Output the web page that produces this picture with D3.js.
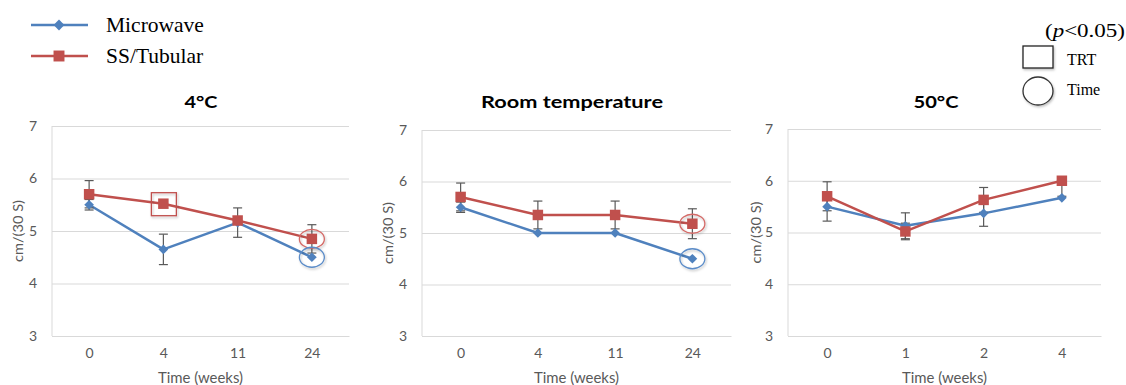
<!DOCTYPE html>
<html>
<head>
<meta charset="utf-8">
<script src="https://cdn.jsdelivr.net/npm/d3@7"></script>
<style>
  html, body { margin: 0; padding: 0; background: #fff; }
  svg { display: block; }
</style>
</head>
<body>
<svg id="chart" width="1126" height="385"></svg>
<script>
// ---- Data -------------------------------------------------------------
const seriesNames = ["Microwave", "SS/Tubular"];
const panelTitles = ["4°C", "Room temperature", "50°C"];

// Storage time points (weeks) per condition
const weeks4C = ["0", "4", "11", "24"];
const weeksRT = ["0", "4", "11", "24"];
const weeks50C = ["0", "1", "2", "4"];

// Mean values, cm/(30 s)
const microwave4C = [5.5, 4.65, 5.16, 4.5];
const ssTubular4C = [5.7, 5.52, 5.2, 4.85];
const microwaveRT = [5.5, 5.0, 5.0, 4.5];
const ssTubularRT = [5.7, 5.35, 5.35, 5.18];
const microwave50C = [5.5, 5.13, 5.37, 5.67];
const ssTubular50C = [5.7, 5.02, 5.63, 6.0];

// Error bar extents (upper / lower)
const microwave4CErrUp = [0.1, 0.29, 0.28, 0];
const microwave4CErrDown = [0.1, 0.29, 0.28, 0];
const ssTubular4CErrUp = [0.26, 0, 0, 0.27];
const ssTubular4CErrDown = [0.26, 0, 0, 0.27];
const microwaveRTErrUp = [0.1, 0, 0, 0];
const microwaveRTErrDown = [0.1, 0, 0, 0];
const ssTubularRTErrUp = [0.27, 0.27, 0.27, 0.29];
const ssTubularRTErrDown = [0.27, 0.27, 0.27, 0.29];
const microwave50CErrUp = [0.28, 0.25, 0.25, 0];
const microwave50CErrDown = [0.28, 0.25, 0.25, 0];
const ssTubular50CErrUp = [0.28, 0.16, 0.24, 0];
const ssTubular50CErrDown = [0.28, 0.16, 0.24, 0.3];

// Y axis ticks
const yTicks = [3, 4, 5, 6, 7];

// Significant differences (p<0.05): panel index, series index, point index, kind
const sigPanel = [0, 0, 0, 1, 1];
const sigSeries = [1, 1, 0, 1, 0];
const sigPoint = [1, 3, 3, 3, 3];
const sigKind = ["TRT", "Time", "Time", "Time", "Time"];

// ---- Layout / style ---------------------------------------------------
const colors = ["#4F81BD", "#C0504D"];
const gridColor = "#D9D9D9";
const textGray = "#595959";
const errColor = "#595959";

const panels = [
  { title: panelTitles[0], cats: weeks4C, vals: [microwave4C, ssTubular4C],
    up: [microwave4CErrUp, ssTubular4CErrUp], down: [microwave4CErrDown, ssTubular4CErrDown],
    left: 52, right: 349, top: 126, bottom: 336, titleX: 201, titleW: 33, yLabelX: 18 },
  { title: panelTitles[1], cats: weeksRT, vals: [microwaveRT, ssTubularRT],
    up: [microwaveRTErrUp, ssTubularRTErrUp], down: [microwaveRTErrDown, ssTubularRTErrDown],
    left: 422, right: 731, top: 130, bottom: 336, titleX: 572, titleW: 182, yLabelX: 388 },
  { title: panelTitles[2], cats: weeks50C, vals: [microwave50C, ssTubular50C],
    up: [microwave50CErrUp, ssTubular50CErrUp], down: [microwave50CErrDown, ssTubular50CErrDown],
    left: 788, right: 1101, top: 129, bottom: 336, titleX: 936, titleW: 45, yLabelX: 756 }
];

const svg = d3.select("#chart");
const sansFont = "Lato, 'Liberation Sans', Arial, sans-serif";
const serifFont = "'Liberation Serif', 'Times New Roman', serif";

// soft shadow used by the significance outlines
const defs = svg.append("defs");
const shadow = defs.append("filter").attr("id", "softShadow")
  .attr("x", "-50%").attr("y", "-50%").attr("width", "200%").attr("height", "200%");
shadow.append("feDropShadow").attr("dx", 1).attr("dy", 1.5)
  .attr("stdDeviation", 1.2).attr("flood-color", "#000").attr("flood-opacity", 0.25);

const diamond = d3.symbol().type(d3.symbolDiamond2).size(60);
const square = d3.symbol().type(d3.symbolSquare).size(110);

panels.forEach((p, pi) => {
  const g = svg.append("g");
  const x = d3.scalePoint().domain(p.cats).range([p.left, p.right]).padding(0.5);
  const y = d3.scaleLinear().domain([3, 7]).range([p.bottom, p.top]);

  // horizontal gridlines
  const yAxis = g.append("g")
    .attr("transform", `translate(${p.left},0)`)
    .call(d3.axisLeft(y).tickValues(yTicks).tickSize(-(p.right - p.left)).tickPadding(15).tickFormat(d3.format("d")));
  yAxis.select(".domain").remove();
  yAxis.selectAll(".tick line").attr("stroke", gridColor).attr("stroke-width", 1);
  yAxis.selectAll(".tick text").attr("fill", textGray)
    .style("font-family", sansFont).style("font-size", "14px");

  // left axis line
  g.append("line").attr("x1", p.left).attr("x2", p.left)
    .attr("y1", y(7)).attr("y2", y(3)).attr("stroke", gridColor);

  // x axis labels
  const xAxis = g.append("g")
    .attr("transform", `translate(0,${p.bottom})`)
    .call(d3.axisBottom(x).tickSize(0).tickPadding(12));
  xAxis.select(".domain").attr("stroke", gridColor);
  xAxis.selectAll(".tick text").attr("fill", textGray)
    .style("font-family", sansFont).style("font-size", "14px");

  // titles
  g.append("text").attr("x", p.titleX).attr("y", 108).attr("text-anchor", "middle")
    .attr("textLength", p.titleW).attr("lengthAdjust", "spacingAndGlyphs")
    .style("font-family", sansFont).style("font-weight", "bold").style("font-size", "17px")
    .attr("fill", "#000").text(p.title);

  g.append("text").attr("x", (p.left + p.right) / 2).attr("y", 383).attr("text-anchor", "middle")
    .attr("textLength", 85).attr("lengthAdjust", "spacingAndGlyphs")
    .style("font-family", sansFont).style("font-size", "14.5px").attr("fill", textGray)
    .text("Time (weeks)");

  g.append("text")
    .attr("transform", `translate(${p.yLabelX + 5},${(p.top + p.bottom) / 2}) rotate(-90)`)
    .attr("text-anchor", "middle")
    .attr("textLength", 62).attr("lengthAdjust", "spacingAndGlyphs")
    .style("font-family", sansFont).style("font-size", "14px").attr("fill", textGray)
    .text("cm/(30 S)");

  const line = d3.line().x((d, i) => x(p.cats[i])).y(d => y(d));

  // series lines
  p.vals.forEach((vals, si) => {
    g.append("path").datum(vals).attr("d", line)
      .attr("fill", "none").attr("stroke", colors[si]).attr("stroke-width", 2.5)
      .attr("stroke-linejoin", "round");
  });

  // error bars
  p.vals.forEach((vals, si) => {
    vals.forEach((v, i) => {
      const up = p.up[si][i], down = p.down[si][i];
      const cx = x(p.cats[i]);
      if (up > 0) {
        g.append("line").attr("x1", cx).attr("x2", cx).attr("y1", y(v)).attr("y2", y(v + up))
          .attr("stroke", errColor).attr("stroke-width", 1.2);
        g.append("line").attr("x1", cx - 4.5).attr("x2", cx + 4.5).attr("y1", y(v + up)).attr("y2", y(v + up))
          .attr("stroke", errColor).attr("stroke-width", 1.2);
      }
      if (down > 0) {
        g.append("line").attr("x1", cx).attr("x2", cx).attr("y1", y(v)).attr("y2", y(v - down))
          .attr("stroke", errColor).attr("stroke-width", 1.2);
        g.append("line").attr("x1", cx - 4.5).attr("x2", cx + 4.5).attr("y1", y(v - down)).attr("y2", y(v - down))
          .attr("stroke", errColor).attr("stroke-width", 1.2);
      }
    });
  });

  // markers
  p.vals.forEach((vals, si) => {
    g.selectAll(null).data(vals).enter().append("path")
      .attr("d", si === 0 ? diamond : square)
      .attr("transform", (d, i) => `translate(${x(p.cats[i])},${y(d)})`)
      .attr("fill", colors[si]);
  });

  // significance outlines
  sigPanel.forEach((sp, k) => {
    if (sp !== pi) return;
    const si = sigSeries[k], i = sigPoint[k];
    const cx = x(p.cats[i]), cy = y(p.vals[si][i]);
    if (sigKind[k] === "TRT") {
      g.append("rect").attr("x", cx - 12).attr("y", cy - 11).attr("width", 25).attr("height", 23)
        .attr("fill", "none").attr("stroke", colors[si]).attr("stroke-width", 1.3)
        .attr("filter", "url(#softShadow)");
    } else {
      g.append("ellipse").attr("cx", cx).attr("cy", cy).attr("rx", 12.5).attr("ry", si === 0 ? 10 : 9.5)
        .attr("fill", "none").attr("stroke", si === 0 ? "#5B8CC8" : "#D46A67").attr("stroke-width", 1.3)
        .attr("filter", "url(#softShadow)");
    }
  });
});

// ---- Series legend (top left) -------------------------------------------
const legend = svg.append("g");
seriesNames.forEach((name, si) => {
  const ly = 25 + si * 31;
  legend.append("line").attr("x1", 31).attr("x2", 88).attr("y1", ly).attr("y2", ly)
    .attr("stroke", colors[si]).attr("stroke-width", 2.5);
  legend.append("path").attr("d", si === 0 ? d3.symbol().type(d3.symbolDiamond2).size(75) : d3.symbol().type(d3.symbolSquare).size(120))
    .attr("transform", `translate(59,${ly})`).attr("fill", colors[si]);
  legend.append("text").attr("x", 106).attr("y", ly + 7)
    .style("font-family", serifFont).style("font-size", "21.5px").attr("fill", "#000")
    .text(name);
});

// ---- Significance key (top right) ---------------------------------------
const key = svg.append("g");
const pText = key.append("text").attr("x", 1045).attr("y", 37)
  .attr("textLength", 80).attr("lengthAdjust", "spacingAndGlyphs")
  .style("font-family", serifFont).style("font-size", "19px").attr("fill", "#000");
pText.append("tspan").text("(");
pText.append("tspan").style("font-style", "italic").text("p");
pText.append("tspan").text("<0.05)");

key.append("rect").attr("x", 1023).attr("y", 46).attr("width", 30).attr("height", 22)
  .attr("fill", "#fff").attr("stroke", "#222").attr("stroke-width", 1.3)
  .attr("filter", "url(#softShadow)");
key.append("text").attr("x", 1067).attr("y", 65)
  .style("font-family", serifFont).style("font-size", "16px").attr("fill", "#000").text("TRT");

key.append("ellipse").attr("cx", 1038).attr("cy", 91).attr("rx", 15).attr("ry", 14)
  .attr("fill", "#fff").attr("stroke", "#333").attr("stroke-width", 1.3)
  .attr("filter", "url(#softShadow)");
key.append("text").attr("x", 1067).attr("y", 95)
  .style("font-family", serifFont).style("font-size", "16px").attr("fill", "#000").text("Time");
</script>
</body>
</html>
